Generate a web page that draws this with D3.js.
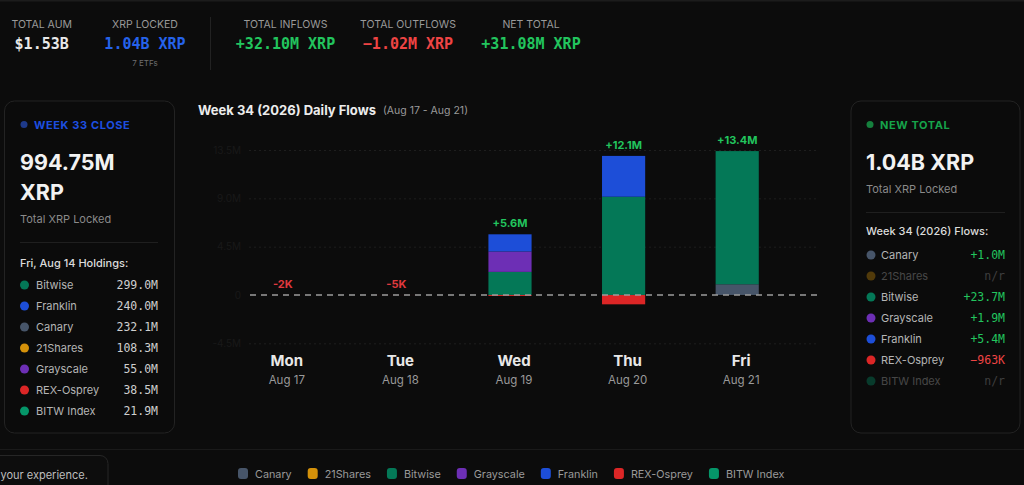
<!DOCTYPE html>
<html>
<head>
<meta charset="utf-8">
<script src="https://cdn.jsdelivr.net/npm/d3@7"></script>
<style>
  html, body { margin: 0; padding: 0; background: #0c0c0c; overflow: hidden; }
  svg { display: block; font-family: Inter, "Noto Sans", sans-serif; }
  .mono { font-family: "DejaVu Sans Mono", "Liberation Mono", monospace; }
</style>
</head>
<body>
<svg id="chart" width="1024" height="485"></svg>
<script>
// XRP ETF weekly flows dashboard: header stats, two side panels, stacked daily bars.

const funds = ["Canary", "21Shares", "Bitwise", "Grayscale", "Franklin", "REX-Osprey", "BITW Index"];
const fundColors = ["#475569", "#d4910a", "#047857", "#6d2fb5", "#1d4ed8", "#dc2626", "#059669"];

const days = ["Mon", "Tue", "Wed", "Thu", "Fri"];
const dayDates = ["Aug 17", "Aug 18", "Aug 19", "Aug 20", "Aug 21"];

// daily flows, millions of XRP, per fund (same order as funds)
const canaryFlow    = [0, 0, 0, 0, 1.0];
const sharesFlow    = [0, 0, 0, 0, 0];
const bitwiseFlow   = [0, 0, 2.15, 9.15, 12.4];
const grayscaleFlow = [0, 0, 1.9, 0, 0];
const franklinFlow  = [0, 0, 1.6, 3.8, 0];
const rexFlow       = [-0.002, -0.005, -0.093, -0.87, 0];
const bitwIdxFlow   = [0, 0, 0, 0, 0];

const yTicks = [-4.5, 0, 4.5, 9, 13.5];
const yTickLabels = ["-4.5M", "0", "4.5M", "9.0M", "13.5M"];

const headerLabels = ["TOTAL AUM", "XRP LOCKED", "TOTAL INFLOWS", "TOTAL OUTFLOWS", "NET TOTAL"];
const headerValues = ["$1.53B", "1.04B XRP", "+32.10M XRP", "\u22121.02M XRP", "+31.08M XRP"];

const holdingNames = ["Bitwise", "Franklin", "Canary", "21Shares", "Grayscale", "REX-Osprey", "BITW Index"];
const holdingValues = ["299.0M", "240.0M", "232.1M", "108.3M", "55.0M", "38.5M", "21.9M"];

const weekFlowValues = ["+1.0M", "n/r", "+23.7M", "+1.9M", "+5.4M", "\u2212963K", "n/r"];

const svg = d3.select("#chart");
const colorOf = d3.scaleOrdinal().domain(funds).range(fundColors);

// ---------- header strip ----------
svg.append("rect").attr("x", 0).attr("y", 0).attr("width", 1024).attr("height", 1.5).attr("fill", "#1c1c1c");
const headerX = [41.7, 145, 285.5, 408, 531];
const headerColor = ["#e8e8e8", "#2563eb", "#22c55e", "#ef4444", "#22c55e"];
headerLabels.forEach((lbl, i) => {
  svg.append("text").attr("x", headerX[i]).attr("y", 28)
    .attr("text-anchor", "middle").attr("fill", "#9a9a9a")
    .style("font-size", "10.5px").text(lbl);
  svg.append("text").attr("class", "mono").attr("x", headerX[i]).attr("y", 48.5)
    .attr("text-anchor", "middle").attr("fill", headerColor[i])
    .style("font-size", "15px").style("font-weight", 700).text(headerValues[i]);
});
svg.append("text").attr("x", 145).attr("y", 66).attr("text-anchor", "middle")
  .attr("fill", "#6f6f6f").style("font-size", "8px").text("7 ETFs");
svg.append("line").attr("x1", 210.5).attr("x2", 210.5).attr("y1", 17).attr("y2", 70)
  .attr("stroke", "#222");

// ---------- side panels ----------
function panel(x0, x1) {
  svg.append("rect").attr("x", x0).attr("y", 101).attr("width", x1 - x0).attr("height", 332)
    .attr("rx", 10).attr("fill", "#0b0b0b").attr("stroke", "#232323");
}

panel(4.5, 174.5);
svg.append("circle").attr("cx", 24).attr("cy", 124.5).attr("r", 3.5).attr("fill", "#1e3a8a");
svg.append("text").attr("x", 34).attr("y", 128.5).attr("fill", "#1d4fe0")
  .style("font-size", "11px").style("font-weight", 700).style("letter-spacing", "0.6px").text("WEEK 33 CLOSE");
svg.append("text").attr("x", 20).attr("y", 170).attr("fill", "#f2f2f2")
  .style("font-size", "21.5px").style("font-weight", 700).text("994.75M");
svg.append("text").attr("x", 20).attr("y", 200).attr("fill", "#f2f2f2")
  .style("font-size", "21.5px").style("font-weight", 700).text("XRP");
svg.append("text").attr("x", 20).attr("y", 223).attr("fill", "#8a8a8a")
  .style("font-size", "11px").text("Total XRP Locked");
svg.append("line").attr("x1", 20).attr("x2", 158).attr("y1", 242.5).attr("y2", 242.5).attr("stroke", "#1f1f1f");
svg.append("text").attr("x", 20).attr("y", 266.5).attr("fill", "#dcdcdc")
  .style("font-size", "11px").style("font-weight", 500).text("Fri, Aug 14 Holdings:");

const hRows = svg.append("g").selectAll("g").data(holdingNames).join("g")
  .attr("transform", (_, i) => `translate(0,${285 + i * 21})`);
hRows.append("circle").attr("cx", 24.5).attr("cy", 0).attr("r", 4.5).attr("fill", d => colorOf(d));
hRows.append("text").attr("x", 36).attr("y", 4).attr("fill", "#b5b5b5")
  .style("font-size", "11px").text(d => d);
hRows.append("text").attr("class", "mono").attr("x", 158).attr("y", 4).attr("text-anchor", "end")
  .attr("fill", "#cfcfcf").style("font-size", "11.5px").text((_, i) => holdingValues[i]);

panel(851, 1020);
svg.append("circle").attr("cx", 870).attr("cy", 124.5).attr("r", 3.5).attr("fill", "#15803d");
svg.append("text").attr("x", 880).attr("y", 128.5).attr("fill", "#16a34a")
  .style("font-size", "11px").style("font-weight", 700).style("letter-spacing", "0.6px").text("NEW TOTAL");
svg.append("text").attr("x", 866).attr("y", 170).attr("fill", "#f2f2f2")
  .style("font-size", "21.5px").style("font-weight", 700).text("1.04B XRP");
svg.append("text").attr("x", 866).attr("y", 192.5).attr("fill", "#8a8a8a")
  .style("font-size", "11px").text("Total XRP Locked");
svg.append("line").attr("x1", 866).attr("x2", 1005).attr("y1", 212.5).attr("y2", 212.5).attr("stroke", "#1f1f1f");
svg.append("text").attr("x", 866).attr("y", 235).attr("fill", "#dcdcdc")
  .style("font-size", "11px").style("font-weight", 500).text("Week 34 (2026) Flows:");

const fRows = svg.append("g").selectAll("g").data(funds).join("g")
  .attr("transform", (_, i) => `translate(0,${255 + i * 21})`)
  .style("opacity", (_, i) => weekFlowValues[i] === "n/r" ? 0.35 : 1);
fRows.append("circle").attr("cx", 871).attr("cy", 0).attr("r", 4.5).attr("fill", d => colorOf(d));
fRows.append("text").attr("x", 881).attr("y", 4).attr("fill", "#b5b5b5")
  .style("font-size", "11px").text(d => d);
fRows.append("text").attr("class", "mono").attr("x", 1005).attr("y", 4).attr("text-anchor", "end")
  .attr("fill", (_, i) => {
    const v = weekFlowValues[i];
    return v.startsWith("+") ? "#22c55e" : v === "n/r" ? "#9a9a9a" : "#ef4444";
  })
  .style("font-size", "11.5px").text((_, i) => weekFlowValues[i]);

// ---------- daily flows chart ----------
svg.append("text").attr("x", 198).attr("y", 114.5).attr("fill", "#ececec")
  .style("font-size", "13px").style("font-weight", 700).text("Week 34 (2026) Daily Flows");
svg.append("text").attr("x", 383).attr("y", 114).attr("fill", "#9a9a9a")
  .style("font-size", "10.5px").text("(Aug 17 - Aug 21)");

const flows = [canaryFlow, sharesFlow, bitwiseFlow, grayscaleFlow, franklinFlow, rexFlow, bitwIdxFlow];
const table = days.map((d, j) => {
  const row = { day: d, date: dayDates[j] };
  funds.forEach((f, i) => { row[f] = flows[i][j]; });
  return row;
});

const x = d3.scaleBand().domain(days).range([226, 794]).paddingInner(0.62).paddingOuter(0.31);
const y = d3.scaleLinear().domain([-4.5, 13.5]).range([343.3, 150]);

svg.append("g").attr("transform", "translate(249,0)")
  .call(d3.axisLeft(y).tickValues(yTicks).tickSize(-568).tickPadding(8)
    .tickFormat((_, i) => yTickLabels[i]))
  .call(g => g.select(".domain").remove())
  .call(g => g.selectAll("line").attr("stroke", "#1e1e1e").attr("stroke-dasharray", "2,3")
    .attr("stroke-opacity", d => d === 0 ? 0 : 1))
  .call(g => g.selectAll("text").attr("fill", "#191919")
    .style("font-size", "10px").style("font-family", "Inter, sans-serif"));

const series = d3.stack().keys(funds).offset(d3.stackOffsetDiverging)(table);

svg.append("g").selectAll("g").data(series).join("g")
  .attr("fill", d => colorOf(d.key))
  .selectAll("rect").data(d => d).join("rect")
  .attr("x", d => x(d.data.day))
  .attr("width", x.bandwidth())
  .attr("y", d => y(d[1]))
  .attr("height", d => Math.max(0, y(d[0]) - y(d[1])));

// zero line on top of bars
svg.append("line").attr("x1", 250).attr("x2", 817)
  .attr("y1", y(0)).attr("y2", y(0))
  .attr("stroke", "#9c9c9c").attr("stroke-width", 1.5).attr("stroke-dasharray", "6,5");

const netOf = r => d3.sum(funds, f => r[f]);
const topOf = r => d3.sum(funds, f => Math.max(0, r[f]));
const fmtNet = v => Math.abs(v) < 1
  ? (v < 0 ? "-" : "+") + Math.round(Math.abs(v) * 1000) + "K"
  : (v < 0 ? "-" : "+") + Math.abs(v).toFixed(1) + "M";

svg.append("g").selectAll("text").data(table).join("text")
  .attr("x", d => x(d.day) + x.bandwidth() / 2)
  .attr("y", d => y(topOf(d)) - 7)
  .attr("text-anchor", "middle")
  .attr("fill", d => netOf(d) < 0 ? "#e0393e" : "#22c55e")
  .style("font-size", "11px").style("font-weight", 700)
  .text(d => fmtNet(netOf(d)));

const dayG = svg.append("g").selectAll("g").data(table).join("g")
  .attr("transform", d => `translate(${x(d.day) + x.bandwidth() / 2 + 4},0)`);
dayG.append("text").attr("y", 366).attr("text-anchor", "middle").attr("fill", "#e8e8e8")
  .style("font-size", "15px").style("font-weight", 700).text(d => d.day);
dayG.append("text").attr("y", 383.5).attr("text-anchor", "middle").attr("fill", "#9a9a9a")
  .style("font-size", "11.5px").text(d => d.date);

// ---------- footer ----------
svg.append("line").attr("x1", 0).attr("x2", 1024).attr("y1", 449.5).attr("y2", 449.5).attr("stroke", "#1a1a1a");
svg.append("rect").attr("x", -10).attr("y", 455.5).attr("width", 118).attr("height", 40)
  .attr("rx", 8).attr("fill", "#0d0d0d").attr("stroke", "#262626");
svg.append("text").attr("x", 0.5).attr("y", 479).attr("fill", "#bdbdbd")
  .style("font-size", "11px").text("your experience.");

const legend = svg.append("g").attr("transform", "translate(238,473.5)");
let lx = 0;
funds.forEach(f => {
  const item = legend.append("g").attr("transform", `translate(${lx},0)`);
  item.append("rect").attr("x", 0).attr("y", -5.5).attr("width", 10).attr("height", 11)
    .attr("rx", 3).attr("fill", colorOf(f));
  const t = item.append("text").attr("x", 17).attr("y", 4).attr("fill", "#9a9a9a")
    .style("font-size", "10.8px").text(f);
  lx += 17 + t.node().getComputedTextLength() + 16;
});
</script>
</body>
</html>
